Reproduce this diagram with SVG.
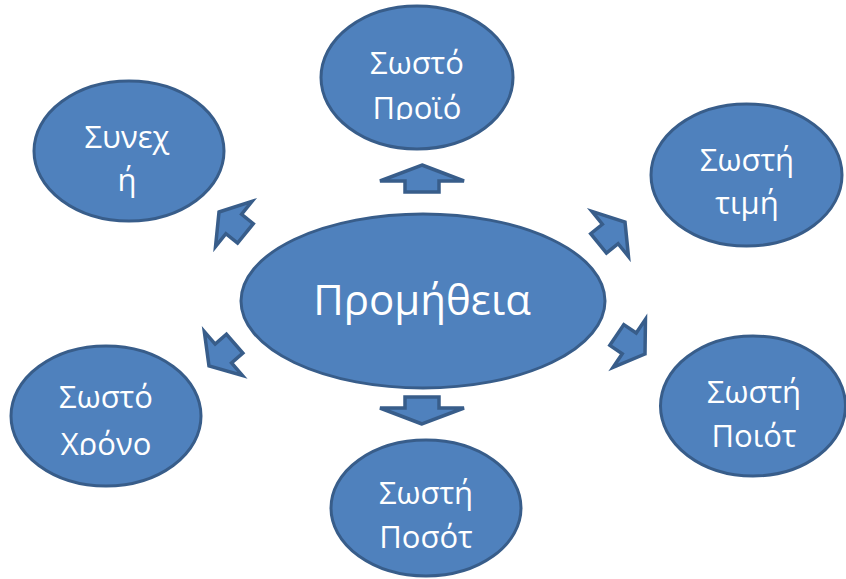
<svg xmlns="http://www.w3.org/2000/svg" width="846" height="579" viewBox="0 0 846 579">
<style>
.n{fill:#4F81BD;stroke:#385D8A;stroke-width:3}
.a{fill:#4F81BD;stroke:#385D8A;stroke-width:3.5;stroke-linejoin:miter}
.t{fill:#FFFFFF;font-family:"Open Sans","Noto Sans","DejaVu Sans",sans-serif;font-size:31px;text-anchor:middle}
.c{font-size:42px}
</style>
<defs>
<polygon id="big" points="0,0 42,16 17,16 17,27 -17,27 -17,16 -42,16"/>
<polygon id="sm" points="0,0 29,19 12.5,19 12.5,34 -12.5,34 -12.5,19 -29,19"/>
<clipPath id="clipTop"><rect x="300" y="0" width="240" height="120"/></clipPath>
<clipPath id="clipBL"><rect x="0" y="340" width="220" height="115"/></clipPath>
</defs>
<g id="connectors">
<use href="#big" class="a" transform="translate(422,165)"/>
<use href="#big" class="a" transform="translate(422,424) rotate(180)"/>
<use href="#sm" class="a" transform="translate(219,212) rotate(-51)"/>
<use href="#sm" class="a" transform="translate(625,222) rotate(51)"/>
<use href="#sm" class="a" transform="translate(209,366) rotate(-131)"/>
<use href="#sm" class="a" transform="translate(645,354) rotate(124)"/>
</g>
<g id="center">
<ellipse class="n" cx="423" cy="301" rx="182" ry="87"/>
<text class="t c" x="422" y="315">Προμήθεια</text>
</g>
<g id="node-top">
<ellipse class="n" cx="417" cy="77.5" rx="96" ry="71.5"/>
<g clip-path="url(#clipTop)">
<text class="t" x="417" y="74">Σωστό</text>
<text class="t" x="417" y="119">Προϊό</text>
</g>
</g>
<g id="node-topleft">
<ellipse class="n" cx="129" cy="151" rx="95" ry="70"/>
<text class="t" x="127" y="148">Συνεχ</text>
<text class="t" x="127" y="191">ή</text>
</g>
<g id="node-topright">
<ellipse class="n" cx="746.5" cy="175" rx="95.5" ry="71"/>
<text class="t" x="747" y="171">Σωστή</text>
<text class="t" x="747" y="214">τιμή</text>
</g>
<g id="node-bottomleft">
<ellipse class="n" cx="106" cy="416" rx="95" ry="70"/>
<g clip-path="url(#clipBL)">
<text class="t" x="106" y="408">Σωστό</text>
<text class="t" x="106" y="455">Χρόνο</text>
</g>
</g>
<g id="node-bottomright">
<ellipse class="n" cx="753" cy="406" rx="92.5" ry="70"/>
<text class="t" x="754" y="403">Σωστή</text>
<text class="t" x="754" y="447">Ποιότ</text>
</g>
<g id="node-bottom">
<ellipse class="n" cx="426" cy="508" rx="95" ry="68"/>
<text class="t" x="426" y="504">Σωστή</text>
<text class="t" x="426" y="548">Ποσότ</text>
</g>
</svg>
